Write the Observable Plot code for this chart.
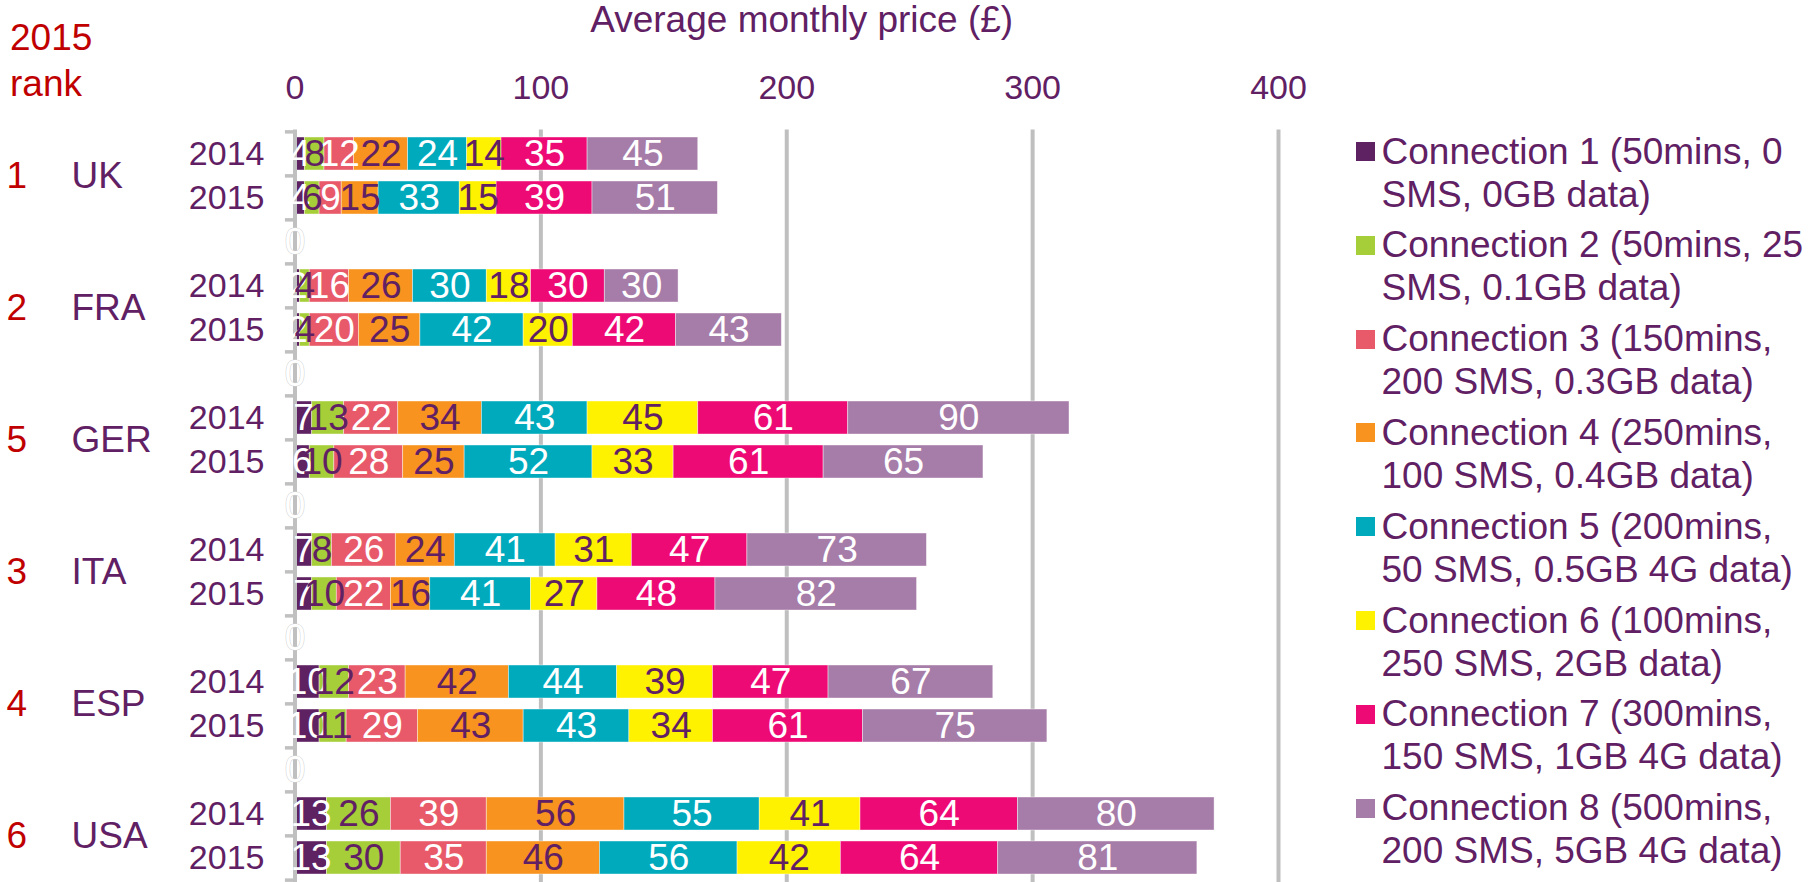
<!DOCTYPE html>
<html><head><meta charset="utf-8">
<script src="https://cdn.jsdelivr.net/npm/d3@7"></script>
<script src="https://cdn.jsdelivr.net/npm/@observablehq/plot@0.6"></script>
<style>
html,body{margin:0;padding:0;background:#fff;overflow:hidden}
#wrap{position:relative;width:1810px;height:882px;font-family:"Liberation Sans",Arial,sans-serif}
#chart{position:absolute;left:0;top:0}
#legend{position:absolute;left:1356px;top:129.6px}
.item{position:relative;height:93.8px}
.sw{position:absolute;left:0;top:12.4px;width:19px;height:19px}
.lab{position:absolute;left:25.5px;top:0;font-size:37px;line-height:43px;color:#602063;white-space:nowrap}
#hdr{position:absolute;left:10px;top:14.85px;color:#c00000;font-size:37px;line-height:46px}
#title{position:absolute;left:801.7px;top:-2.35px;transform:translateX(-50%);color:#602063;font-size:37px;line-height:43px;white-space:nowrap}
</style></head>
<body>
<div id="wrap">
  <div id="chart"></div>
  <div id="hdr">2015<br>rank</div>
  <div id="title">Average monthly price (£)</div>
  <div id="legend"></div>
</div>
<script>
// ---- data ----
const countries = ["UK", "FRA", "GER", "ITA", "ESP", "USA"];
const ranks = ["1", "2", "5", "3", "4", "6"];
const years = ["2014", "2015"];
const connections = [
  "Connection 1 (50mins, 0 SMS, 0GB data)",
  "Connection 2 (50mins, 25 SMS, 0.1GB data)",
  "Connection 3 (150mins, 200 SMS, 0.3GB data)",
  "Connection 4 (250mins, 100 SMS, 0.4GB data)",
  "Connection 5 (200mins, 50 SMS, 0.5GB 4G data)",
  "Connection 6 (100mins, 250 SMS, 2GB data)",
  "Connection 7 (300mins, 150 SMS, 1GB 4G data)",
  "Connection 8 (500mins, 200 SMS, 5GB 4G data)"
];
const legendLines = [
  ["Connection 1 (50mins, 0", "SMS, 0GB data)"],
  ["Connection 2 (50mins, 25", "SMS, 0.1GB data)"],
  ["Connection 3 (150mins,", "200 SMS, 0.3GB data)"],
  ["Connection 4 (250mins,", "100 SMS, 0.4GB data)"],
  ["Connection 5 (200mins,", "50 SMS, 0.5GB 4G data)"],
  ["Connection 6 (100mins,", "250 SMS, 2GB data)"],
  ["Connection 7 (300mins,", "150 SMS, 1GB 4G data)"],
  ["Connection 8 (500mins,", "200 SMS, 5GB 4G data)"]
];
// order: UK14, UK15, FRA14, FRA15, GER14, GER15, ITA14, ITA15, ESP14, ESP15, USA14, USA15
const conn1 = [4, 4, 2, 2, 7, 6, 7, 7, 10, 10, 13, 13];
const conn2 = [8, 6, 4, 4, 13, 10, 8, 10, 12, 11, 26, 30];
const conn3 = [12, 9, 16, 20, 22, 28, 26, 22, 23, 29, 39, 35];
const conn4 = [22, 15, 26, 25, 34, 25, 24, 16, 42, 43, 56, 46];
const conn5 = [24, 33, 30, 42, 43, 52, 41, 41, 44, 43, 55, 56];
const conn6 = [14, 15, 18, 20, 45, 33, 31, 27, 39, 34, 41, 42];
const conn7 = [35, 39, 30, 42, 61, 61, 47, 48, 47, 61, 64, 64];
const conn8 = [45, 51, 30, 43, 90, 65, 73, 82, 67, 75, 80, 81];
const xTicks = [0, 100, 200, 300, 400];

const colors = ["#5e2162", "#a6ce39", "#e85a6a", "#f7931e", "#00aabd", "#fff200", "#ee0a75", "#a67ca9"];
const labelFill = ["white", "#602063", "white", "#602063", "white", "#602063", "white", "white"];
const textColor = "#602063";

// ---- build table ----
const series = [conn1, conn2, conn3, conn4, conn5, conn6, conn7, conn8];
const slots = [];
countries.forEach((c, i) => {
  years.forEach(y => slots.push(c + " " + y));
  if (i < countries.length - 1) slots.push("gap" + i);
});
const gaps = slots.filter(s => s.startsWith("gap"));
const rows = [];
countries.forEach((c, ci) => years.forEach((y, yi) => {
  const k = ci * 2 + yi;
  series.forEach((arr, j) => rows.push({slot: c + " " + y, conn: connections[j], j, value: arr[k]}));
}));

const H = 882, MT = 129.6, ML = 294.5, MR = 532;
const step = (H - MT) / slots.length;
const font = '"Liberation Sans", Arial, sans-serif';

const chart = Plot.plot({
  width: 1810, height: H,
  marginTop: MT, marginBottom: 0, marginLeft: ML, marginRight: MR,
  style: {fontFamily: font, background: "transparent", overflow: "visible"},
  x: {domain: [0, 400], axis: null},
  y: {domain: slots, paddingInner: 0.243, paddingOuter: 0.1215, axis: null},
  color: {domain: connections, range: colors},
  marks: [
    Plot.ruleX(xTicks.slice(1), {stroke: "#bfbfbf", strokeWidth: 4}),
    Plot.barX(rows, Plot.stackX({x: "value", y: "slot", fill: "conn", order: null,
      stroke: "#ffffff", strokeWidth: 0.75, strokeOpacity: 0.55})),
    Plot.ruleX([0], {stroke: "#c0c0c0", strokeWidth: 4}),
    Plot.ruleY(slots, {y: d => d, x1: -3.9, x2: 0, dy: -step / 2, stroke: "#c0c0c0", strokeWidth: 3.5}),
    Plot.ruleY([slots[slots.length - 1]], {y: d => d, x1: -3.9, x2: 0, dy: step / 2, stroke: "#c0c0c0", strokeWidth: 3.5}),
    Plot.text(rows, Plot.stackX({x: "value", y: "slot", order: null,
      text: d => labelFill[d.j] === "white" ? String(d.value) : "", fill: "white", fontSize: 37})),
    Plot.text(rows, Plot.stackX({x: "value", y: "slot", order: null,
      text: d => labelFill[d.j] !== "white" ? String(d.value) : "", fill: textColor, fontSize: 37})),
    Plot.text(gaps, {x: () => 0, y: d => d, text: () => "0", fill: "white", stroke: "#cfcfcf", strokeWidth: 1, fontSize: 37}),
    Plot.axisY({ticks: slots.filter(s => !s.startsWith("gap")), tickSize: 0, tickPadding: 30.5,
      tickFormat: d => d.split(" ")[1], fontSize: 34, fill: textColor, label: null}),
    Plot.text(countries, {y: d => d + " 2014", dy: step / 2, frameAnchor: "left", dx: 71 - ML,
      textAnchor: "start", lineAnchor: "middle", text: d => d, fill: textColor, fontSize: 37}),
    Plot.text(countries, {y: d => d + " 2014", dy: step / 2, frameAnchor: "left", dx: 6 - ML,
      textAnchor: "start", lineAnchor: "middle", text: (d, i) => ranks[i], fill: "#c00000", fontSize: 37}),
    Plot.text(xTicks, {x: d => d, frameAnchor: "top", dy: -42.2, lineAnchor: "middle", text: d => String(d),
      fill: textColor, fontSize: 34})
  ]
});
document.getElementById("chart").appendChild(chart);

// ---- legend ----
const lg = document.getElementById("legend");
connections.forEach((c, i) => {
  const it = document.createElement("div");
  it.className = "item";
  const sw = document.createElement("div");
  sw.className = "sw";
  sw.style.background = colors[i];
  const lab = document.createElement("div");
  lab.className = "lab";
  lab.innerHTML = legendLines[i].join("<br>");
  it.appendChild(sw); it.appendChild(lab);
  lg.appendChild(it);
});
</script>
</body></html>
